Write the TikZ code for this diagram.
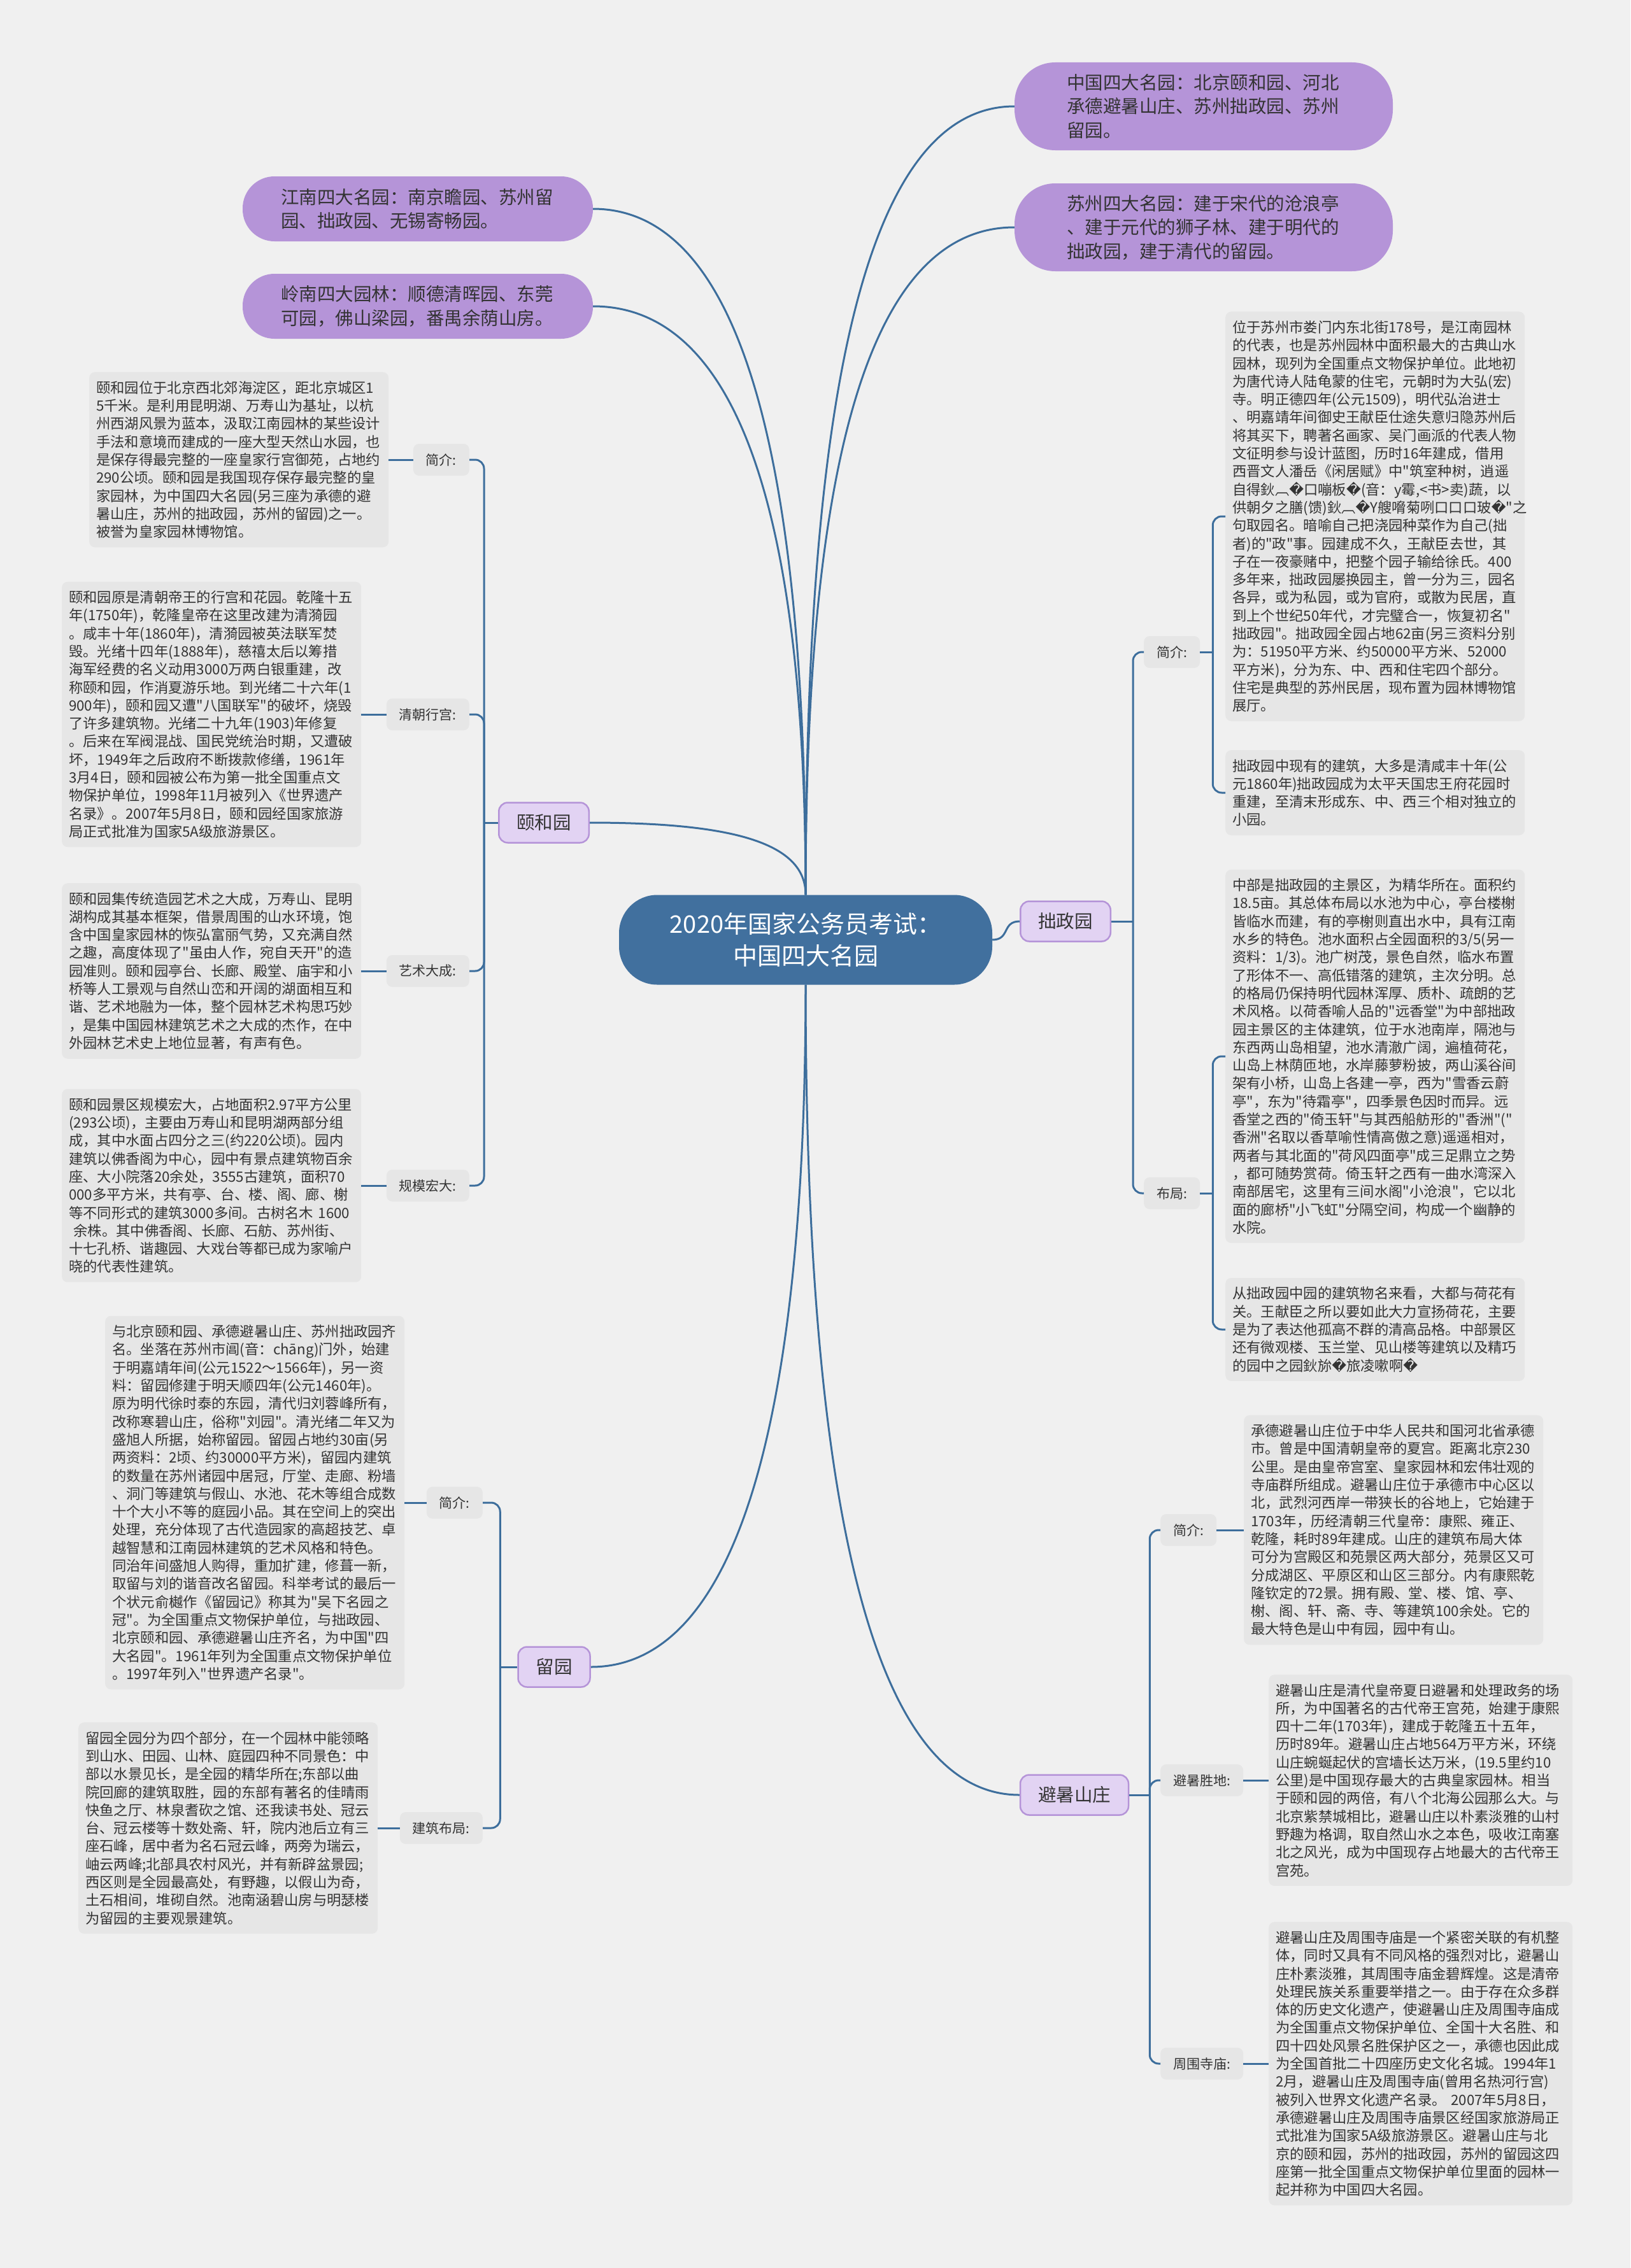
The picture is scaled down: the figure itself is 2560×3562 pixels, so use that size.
\documentclass[tikz,border=0pt]{standalone}
\usepackage{fontspec}
\setmainfont{Noto Sans CJK SC}[Ligatures=TeXOff]
\newfontfamily\djvfont{DejaVu Sans}
\newcommand\rpl{{\djvfont\char"FFFD}}
\usetikzlibrary{calc}
\definecolor{bgc}{HTML}{F0F0F0}
\definecolor{boxc}{HTML}{E6E6E6}
\definecolor{linec}{HTML}{3D6E9C}
\definecolor{centc}{HTML}{41709E}
\definecolor{purp}{HTML}{B594D8}
\definecolor{lpurp}{HTML}{E2D3F3}
\definecolor{txtc}{HTML}{333333}
\newcommand\detf{\fontsize{22.3pt}{28.3pt}\selectfont}
\newcommand\labf{\fontsize{21pt}{26pt}\selectfont}
\newcommand\pf{\fontsize{28.5pt}{37.5pt}\selectfont}
\newcommand\cf{\fontsize{38pt}{50pt}\selectfont}
\newcommand\lf{\fontsize{28.5pt}{34pt}\selectfont}
\begin{document}
\begin{tikzpicture}[x=1pt,y=-1pt,
 conn/.style={draw=linec,line width=3pt},
 rc/.style={rounded corners=14pt},
 det/.style={fill=boxc,rounded corners=9pt,align=left,text width=#1,inner xsep=11pt,inner ysep=14pt,anchor=west,font=\detf,text=txtc},
 det/.default=448pt,
 lab/.style={fill=boxc,rounded corners=9pt,inner xsep=20pt,minimum height=50pt,font=\labf,text=txtc},
 pnode/.style={fill=purp,align=left,font=\pf,text=txtc,text width=430pt},
 lone/.style={fill=lpurp,draw=purp,line width=2.5pt,rounded corners=14pt,inner xsep=28pt,minimum height=63pt,font=\lf,text=txtc},
 central/.style={fill=centc,text=white,rounded corners=60pt,minimum width=586pt,minimum height=141pt,align=center,font=\cf}]
\fill[bgc] (0,0) rectangle (2560,3562);
\useasboundingbox (0,0) rectangle (2560,3562);

% central
\node[central] (c) at (1265,1476) {2020年国家公务员考试：\\中国四大名园};

% purple nodes
\node[pnode,inner xsep=82pt,minimum height=138pt,rounded corners=64pt] (zg) at (1890,167) {中国四大名园：北京颐和园、河北\\承德避暑山庄、苏州拙政园、苏州\\留园。};
\node[pnode,inner xsep=82pt,minimum height=138pt,rounded corners=64pt] (sz) at (1890,357) {苏州四大名园：建于宋代的沧浪亭\\、建于元代的狮子林、建于明代的\\拙政园，建于清代的留园。};
\node[pnode,inner xsep=60pt,minimum height=102pt,rounded corners=50pt] (jn) at (656,328) {江南四大名园：南京瞻园、苏州留\\园、拙政园、无锡寄畅园。};
\node[pnode,inner xsep=60pt,minimum height=102pt,rounded corners=50pt] (ln) at (656,481) {岭南四大园林：顺德清晖园、东莞\\可园，佛山梁园，番禺余荫山房。};

% level one
\node[lone] (yhy) at (854,1292) {颐和园};
\node[lone] (ly) at (870,2618) {留园};
\node[lone] (zz) at (1673,1447) {拙政园};
\node[lone] (bs) at (1687,2819) {避暑山庄};

% main connectors
\draw[conn] (c.north) .. controls +(0,-760) and +(-240,0) .. (zg.west);
\draw[conn] (c.north) .. controls +(0,-640) and +(-240,0) .. (sz.west);
\draw[conn] (c.north) .. controls +(0,-660) and +(240,0) .. (jn.east);
\draw[conn] (c.north) .. controls +(0,-560) and +(240,0) .. (ln.east);
\draw[conn] (c.north) .. controls +(0,-80) and +(230,0) .. (yhy.east);
\draw[conn] (c.south) .. controls +(0,650) and +(240,0) .. (ly.east);
\draw[conn] (c.south) .. controls +(0,780) and +(-240,0) .. (bs.west);
\draw[conn] (c.east) .. controls +(28,0) and +(-28,0) .. (zz.west);

% ---------- 颐和园 ----------
\node[lab,anchor=east] (y1) at (737,722) {简介:};
\node[lab,anchor=east] (y2) at (737,1122) {清朝行宫:};
\node[lab,anchor=east] (y3) at (737,1525) {艺术大成:};
\node[lab,anchor=east] (y4) at (737,1862) {规模宏大:};
\coordinate (ys) at ($(yhy.west)+(-22,0)$);
\draw[conn] (yhy.west) -- (ys);
\foreach \n in {y1,y2,y3,y4} \draw[conn,rc] (ys) |- (\n.east);

\node[det] (t1) at (140,722) {颐和园位于北京西北郊海淀区，距北京城区1\\5千米。是利用昆明湖、万寿山为基址，以杭\\州西湖风景为蓝本，汲取江南园林的某些设计\\手法和意境而建成的一座大型天然山水园，也\\是保存得最完整的一座皇家行宫御苑，占地约\\290公顷。颐和园是我国现存保存最完整的皇\\家园林，为中国四大名园(另三座为承德的避\\暑山庄，苏州的拙政园，苏州的留园)之一。\\被誉为皇家园林博物馆。};
\node[det] (t2) at (97,1122) {颐和园原是清朝帝王的行宫和花园。乾隆十五\\年(1750年)，乾隆皇帝在这里改建为清漪园\\。咸丰十年(1860年)，清漪园被英法联军焚\\毁。光绪十四年(1888年)，慈禧太后以筹措\\海军经费的名义动用3000万两白银重建，改\\称颐和园，作消夏游乐地。到光绪二十六年(1\\900年)，颐和园又遭"八国联军"的破坏，烧毁\\了许多建筑物。光绪二十九年(1903)年修复\\。后来在军阀混战、国民党统治时期，又遭破\\坏，1949年之后政府不断拨款修缮，1961年\\3月4日，颐和园被公布为第一批全国重点文\\物保护单位，1998年11月被列入《世界遗产\\名录》。2007年5月8日，颐和园经国家旅游\\局正式批准为国家5A级旅游景区。};
\node[det] (t3) at (97,1525) {颐和园集传统造园艺术之大成，万寿山、昆明\\湖构成其基本框架，借景周围的山水环境，饱\\含中国皇家园林的恢弘富丽气势，又充满自然\\之趣，高度体现了"虽由人作，宛自天开"的造\\园准则。颐和园亭台、长廊、殿堂、庙宇和小\\桥等人工景观与自然山峦和开阔的湖面相互和\\谐、艺术地融为一体，整个园林艺术构思巧妙\\，是集中国园林建筑艺术之大成的杰作，在中\\外园林艺术史上地位显著，有声有色。};
\node[det] (t4) at (97,1862) {颐和园景区规模宏大，占地面积2.97平方公里\\(293公顷)，主要由万寿山和昆明湖两部分组\\成，其中水面占四分之三(约220公顷)。园内\\建筑以佛香阁为中心，园中有景点建筑物百余\\座、大小院落20余处，3555古建筑，面积70\\000多平方米，共有亭、台、楼、阁、廊、榭\\等不同形式的建筑3000多间。古树名木 1600\\\ 余株。其中佛香阁、长廊、石舫、苏州街、\\十七孔桥、谐趣园、大戏台等都已成为家喻户\\晓的代表性建筑。};
\foreach \a/\b in {y1/t1,y2/t2,y3/t3,y4/t4} \draw[conn] (\a.west) -- (\b.east);

% ---------- 留园 ----------
\node[lab,anchor=east] (ly1) at (758,2360) {简介:};
\node[lab,anchor=east] (ly2) at (758,2871) {建筑布局:};
\coordinate (lys) at ($(ly.west)+(-27,0)$);
\draw[conn] (ly.west) -- (lys);
\foreach \n in {ly1,ly2} \draw[conn,rc] (lys) |- (\n.east);
\node[det] (t5) at (165,2360) {与北京颐和园、承德避暑山庄、苏州拙政园齐\\名。坐落在苏州市阊(音：chāng)门外，始建\\于明嘉靖年间(公元1522～1566年)，另一资\\料：留园修建于明天顺四年(公元1460年)。\\原为明代徐时泰的东园，清代归刘蓉峰所有，\\改称寒碧山庄，俗称"刘园"。清光绪二年又为\\盛旭人所据，始称留园。留园占地约30亩(另\\两资料：2顷、约30000平方米)，留园内建筑\\的数量在苏州诸园中居冠，厅堂、走廊、粉墙\\、洞门等建筑与假山、水池、花木等组合成数\\十个大小不等的庭园小品。其在空间上的突出\\处理，充分体现了古代造园家的高超技艺、卓\\越智慧和江南园林建筑的艺术风格和特色。\\同治年间盛旭人购得，重加扩建，修葺一新，\\取留与刘的谐音改名留园。科举考试的最后一\\个状元俞樾作《留园记》称其为"吴下名园之\\冠"。为全国重点文物保护单位，与拙政园、\\北京颐和园、承德避暑山庄齐名，为中国"四\\大名园"。1961年列为全国重点文物保护单位\\。1997年列入"世界遗产名录"。};
\node[det] (t6) at (123,2871) {留园全园分为四个部分，在一个园林中能领略\\到山水、田园、山林、庭园四种不同景色：中\\部以水景见长，是全园的精华所在;东部以曲\\院回廊的建筑取胜，园的东部有著名的佳晴雨\\快鱼之厅、林泉耆砍之馆、还我读书处、冠云\\台、冠云楼等十数处斋、轩，院内池后立有三\\座石峰，居中者为名石冠云峰，两旁为瑞云，\\岫云两峰;北部具农村风光，并有新辟盆景园;\\西区则是全园最高处，有野趣，以假山为奇，\\土石相间，堆砌自然。池南涵碧山房与明瑟楼\\为留园的主要观景建筑。};
\foreach \a/\b in {ly1/t5,ly2/t6} \draw[conn] (\a.west) -- (\b.east);

% ---------- 拙政园 ----------
\node[lab,anchor=west] (zz1) at (1796,1024) {简介:};
\node[lab,anchor=west] (zz2) at (1796,1874) {布局:};
\coordinate (zs) at ($(zz.east)+(34,0)$);
\draw[conn] (zz.east) -- (zs);
\foreach \n in {zz1,zz2} \draw[conn,rc] (zs) |- (\n.west);
\node[det] (t7) at (1924,811) {位于苏州市娄门内东北街178号，是江南园林\\的代表，也是苏州园林中面积最大的古典山水\\园林，现列为全国重点文物保护单位。此地初\\为唐代诗人陆龟蒙的住宅，元朝时为大弘(宏)\\寺。明正德四年(公元1509)，明代弘治进士\\、明嘉靖年间御史王献臣仕途失意归隐苏州后\\将其买下，聘著名画家、吴门画派的代表人物\\文征明参与设计蓝图，历时16年建成，借用\\西晋文人潘岳《闲居赋》中"筑室种树，逍遥\\自得鈥︹\rpl{}口嘣板\rpl{}(音：y霉,<书>卖)蔬，以\\供朝夕之膳(馈)鈥︹\rpl{}Y艘嗋菊咧口口口玻\rpl{}"之\\句取园名。暗喻自己把浇园种菜作为自己(拙\\者)的"政"事。园建成不久，王献臣去世，其\\子在一夜豪赌中，把整个园子输给徐氏。400\\多年来，拙政园屡换园主，曾一分为三，园名\\各异，或为私园，或为官府，或散为民居，直\\到上个世纪50年代，才完璧合一，恢复初名"\\拙政园"。拙政园全园占地62亩(另三资料分别\\为：51950平方米、约50000平方米、52000\\平方米)，分为东、中、西和住宅四个部分。\\住宅是典型的苏州民居，现布置为园林博物馆\\展厅。};
\node[det] (t8) at (1924,1245) {拙政园中现有的建筑，大多是清咸丰十年(公\\元1860年)拙政园成为太平天国忠王府花园时\\重建，至清末形成东、中、西三个相对独立的\\小园。};
\node[det] (t9) at (1924,1659) {中部是拙政园的主景区，为精华所在。面积约\\18.5亩。其总体布局以水池为中心，亭台楼榭\\皆临水而建，有的亭榭则直出水中，具有江南\\水乡的特色。池水面积占全园面积的3/5(另一\\资料：1/3)。池广树茂，景色自然，临水布置\\了形体不一、高低错落的建筑，主次分明。总\\的格局仍保持明代园林浑厚、质朴、疏朗的艺\\术风格。以荷香喻人品的"远香堂"为中部拙政\\园主景区的主体建筑，位于水池南岸，隔池与\\东西两山岛相望，池水清澈广阔，遍植荷花，\\山岛上林荫匝地，水岸藤萝粉披，两山溪谷间\\架有小桥，山岛上各建一亭，西为"雪香云蔚\\亭"，东为"待霜亭"，四季景色因时而异。远\\香堂之西的"倚玉轩"与其西船舫形的"香洲"("\\香洲"名取以香草喻性情高傲之意)遥遥相对，\\两者与其北面的"荷风四面亭"成三足鼎立之势\\，都可随势赏荷。倚玉轩之西有一曲水湾深入\\南部居宅，这里有三间水阁"小沧浪"，它以北\\面的廊桥"小飞虹"分隔空间，构成一个幽静的\\水院。};
\node[det] (t10) at (1924,2088) {从拙政园中园的建筑物名来看，大都与荷花有\\关。王献臣之所以要如此大力宣扬荷花，主要\\是为了表达他孤高不群的清高品格。中部景区\\还有微观楼、玉兰堂、见山楼等建筑以及精巧\\的园中之园鈥旀\rpl{}旅凌嗽啊\rpl{}};
\coordinate (zs1) at ($(zz1.east)+(20,0)$);
\coordinate (zs2) at ($(zz2.east)+(20,0)$);
\draw[conn] (zz1.east) -- (zs1);
\draw[conn] (zz2.east) -- (zs2);
\foreach \n in {t7,t8} \draw[conn,rc] (zs1) |- (\n.west);
\foreach \n in {t9,t10} \draw[conn,rc] (zs2) |- (\n.west);

% ---------- 避暑山庄 ----------
\node[lab,anchor=west] (bs1) at (1822,2403) {简介:};
\node[lab,anchor=west] (bs2) at (1822,2796) {避暑胜地:};
\node[lab,anchor=west] (bs3) at (1822,3241) {周围寺庙:};
\coordinate (bss) at ($(bs.east)+(32,0)$);
\draw[conn] (bs.east) -- (bss);
\foreach \n in {bs1,bs2,bs3} \draw[conn,rc] (bss) |- (\n.west);
\node[det] (t11) at (1953,2403) {承德避暑山庄位于中华人民共和国河北省承德\\市。曾是中国清朝皇帝的夏宫。距离北京230\\公里。是由皇帝宫室、皇家园林和宏伟壮观的\\寺庙群所组成。避暑山庄位于承德市中心区以\\北，武烈河西岸一带狭长的谷地上，它始建于\\1703年，历经清朝三代皇帝：康熙、雍正、\\乾隆，耗时89年建成。山庄的建筑布局大体\\可分为宫殿区和苑景区两大部分，苑景区又可\\分成湖区、平原区和山区三部分。内有康熙乾\\隆钦定的72景。拥有殿、堂、楼、馆、亭、\\榭、阁、轩、斋、寺、等建筑100余处。它的\\最大特色是山中有园，园中有山。};
\node[det=455pt] (t12) at (1992,2796) {避暑山庄是清代皇帝夏日避暑和处理政务的场\\所，为中国著名的古代帝王宫苑，始建于康熙\\四十二年(1703年)，建成于乾隆五十五年，\\历时89年。避暑山庄占地564万平方米，环绕\\山庄蜿蜒起伏的宫墙长达万米，(19.5里约10\\公里)是中国现存最大的古典皇家园林。相当\\于颐和园的两倍，有八个北海公园那么大。与\\北京紫禁城相比，避暑山庄以朴素淡雅的山村\\野趣为格调，取自然山水之本色，吸收江南塞\\北之风光，成为中国现存占地最大的古代帝王\\宫苑。};
\node[det=455pt] (t13) at (1992,3241) {避暑山庄及周围寺庙是一个紧密关联的有机整\\体，同时又具有不同风格的强烈对比，避暑山\\庄朴素淡雅，其周围寺庙金碧辉煌。这是清帝\\处理民族关系重要举措之一。由于存在众多群\\体的历史文化遗产，使避暑山庄及周围寺庙成\\为全国重点文物保护单位、全国十大名胜、和\\四十四处风景名胜保护区之一，承德也因此成\\为全国首批二十四座历史文化名城。1994年1\\2月，避暑山庄及周围寺庙(曾用名热河行宫)\\被列入世界文化遗产名录。 2007年5月8日，\\承德避暑山庄及周围寺庙景区经国家旅游局正\\式批准为国家5A级旅游景区。避暑山庄与北\\京的颐和园，苏州的拙政园，苏州的留园这四\\座第一批全国重点文物保护单位里面的园林一\\起并称为中国四大名园。};
\foreach \a/\b in {bs1/t11,bs2/t12,bs3/t13} \draw[conn] (\a.east) -- (\b.west);
\end{tikzpicture}
\end{document}
